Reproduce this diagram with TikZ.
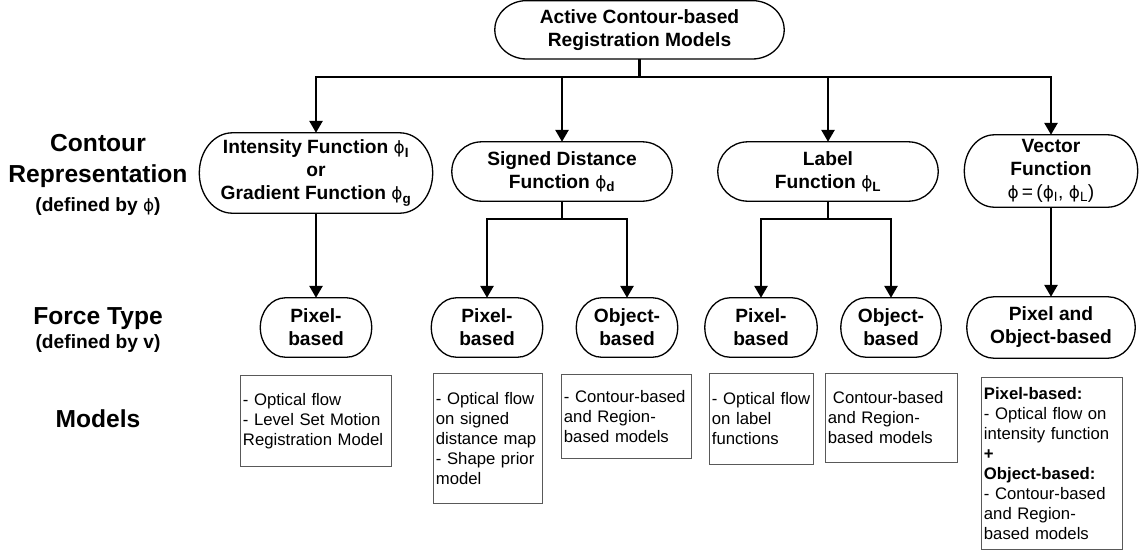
\documentclass[tikz,border=0pt]{standalone}
\usepackage{fontspec}
\setmainfont{Liberation Sans}
\newfontfamily\phifont{DejaVu Sans}[Scale=0.88]
\usetikzlibrary{arrows.meta,calc}

% straight-stroke phi, always upright and regular weight
\newcommand\ph{{\phifont\mdseries ϕ}}

% outline of a "stadium" node: elliptic ends of horizontal radius #2 (pt)
\newcommand\stadium[2]{%
  \draw[outline] let \p1=(#1.north west), \p2=(#1.south east), \n1={(\y1-\y2)/2} in
    (\x1+#2pt,\y1) -- (\x2-#2pt,\y1)
    arc[start angle=90,end angle=-90,x radius=#2pt,y radius=\n1]
    -- (\x1+#2pt,\y2)
    arc[start angle=270,end angle=90,x radius=#2pt,y radius=\n1] -- cycle;}

\tikzset{
  lvl/.style={align=center, inner sep=0pt,
    font=\fontsize{19.2}{23}\selectfont\bfseries},
  outline/.style={line width=1.3pt, black},
  conn/.style={line width=2.7pt, black},
  arr/.style={conn, -{Triangle[length=12pt,width=13pt]}},
  model/.style={draw=black!65, line width=0.9pt, align=left, anchor=north west,
    inner xsep=2.5pt, inner ysep=0pt,
    font=\fontsize{16.7}{20}\selectfont},
  bighead/.style={anchor=base, inner sep=0pt,
    font=\fontsize{24.6}{30}\selectfont\bfseries},
  subhead/.style={anchor=base, inner sep=0pt,
    font=\fontsize{19.2}{23}\selectfont\bfseries},
}

\begin{document}
\begin{tikzpicture}[x=1pt,y=-1pt]
\useasboundingbox (0,0) rectangle (1146,555);

% row labels
\node[bighead] (lab1a) at (98,151) {Contour};
\node[bighead] (lab1b) at (98,182) {Representation};
\node[subhead] (lab1c) at (98,211) {(defined by \ph)};
\node[bighead] (lab2a) at (98,324) {Force Type};
\node[subhead] (lab2b) at (98,348) {(defined by v)};
\node[bighead] (lab3) at (98,427) {Models};

% root
\node[lvl, minimum width=289, minimum height=58] (top) at (639.5,29.8)
  {Active Contour-based\\Registration Models};

% contour representations
\node[lvl, minimum width=233, minimum height=80] (n1) at (316,173)
  {Intensity Function \ph\textsubscript{I}\\or\\Gradient Function \ph\textsubscript{g}};
\node[lvl, minimum width=220, minimum height=59] (n2) at (562,171.5)
  {Signed Distance\\Function \ph\textsubscript{d}};
\node[lvl, minimum width=220, minimum height=59] (n3) at (828,171.5)
  {Label\\Function \ph\textsubscript{L}};
\node[lvl, minimum width=173, minimum height=72] (n4) at (1051,171)
  {Vector\\Function\\{\mdseries\ph\,=\,(\ph\textsubscript{I}, \ph\textsubscript{L})}};

% force types
\node[lvl, minimum width=111, minimum height=59] (p1) at (316,327.5) {Pixel-\\based};
\node[lvl, minimum width=111, minimum height=59] (p2) at (487,327.5) {Pixel-\\based};
\node[lvl, minimum width=101, minimum height=59] (o2) at (627,327.5) {Object-\\based};
\node[lvl, minimum width=112, minimum height=59] (p3) at (761,327.5) {Pixel-\\based};
\node[lvl, minimum width=100, minimum height=59] (o3) at (891,327.5) {Object-\\based};
\node[lvl, minimum width=168, minimum height=61] (po4) at (1051,327.5) {Pixel and\\Object-based};

\stadium{top}{32}
\stadium{n1}{33}
\stadium{n2}{30}
\stadium{n3}{30}
\stadium{n4}{30}
\stadium{p1}{25}
\stadium{p2}{25}
\stadium{o2}{25}
\stadium{p3}{25}
\stadium{o3}{25}
\stadium{po4}{27}

% model boxes
\node[model, minimum width=151, minimum height=91, text width=146] (b1) at (240,375)
  {- Optical flow\\- Level Set Motion\\Registration Model};
\node[model, minimum width=109, minimum height=130, text width=104] (b2) at (433,373)
  {- Optical flow\\on signed\\distance map\\- Shape prior\\model};
\node[model, minimum width=130, minimum height=84, text width=125] (b3) at (561,374)
  {- Contour-based\\and Region-\\based models};
\node[model, minimum width=104, minimum height=91, text width=99] (b4) at (709,373)
  {- Optical flow\\on label\\functions};
\node[model, minimum width=132, minimum height=89, text width=127] (b5) at (825,373)
  {\hspace*{5pt}Contour-based\\and Region-\\based models};
\node[model, minimum width=141, minimum height=172, text width=136] (b6) at (981,377)
  {\textbf{Pixel-based:}\\- Optical flow on\\intensity function\\\textbf{+}\\\textbf{Object-based:}\\- Contour-based\\and Region-\\based models};

% connectors
\coordinate (t0) at (639.5,77);
\coordinate (s2) at (562,219);
\coordinate (s3) at (828,219);
\draw[conn] (top.south) -- (t0);
\draw[arr] (t0) -| (n1.north);
\draw[arr] (t0) -| (n4.north);
\draw[arr] (n2.north |- t0) -- (n2.north);
\draw[arr] (n3.north |- t0) -- (n3.north);

\draw[arr] (n1.south) -- (p1.north);
\draw[conn] (n2.south) -- (s2);
\draw[arr] (s2) -| (p2.north);
\draw[arr] (s2) -| (o2.north);
\draw[conn] (n3.south) -- (s3);
\draw[arr] (s3) -| (p3.north);
\draw[arr] (s3) -| (o3.north);
\draw[arr] (n4.south) -- (po4.north);
\end{tikzpicture}
\end{document}
